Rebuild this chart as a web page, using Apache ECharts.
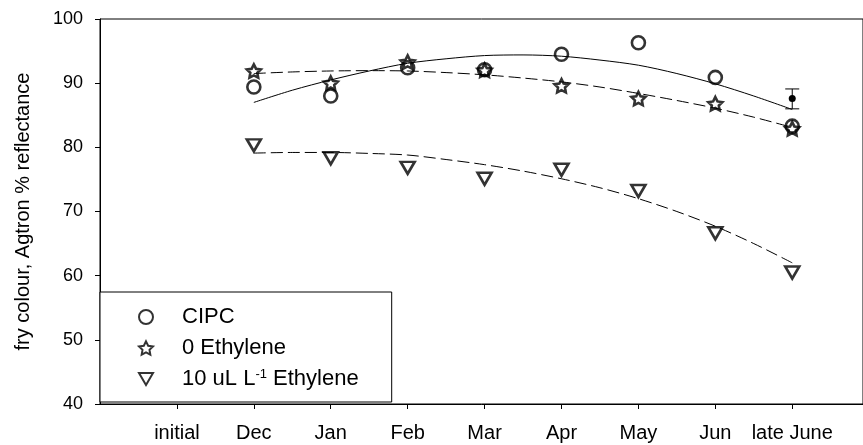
<!DOCTYPE html>
<html>
<head>
<meta charset="utf-8">
<script src="https://cdn.jsdelivr.net/npm/echarts@6/dist/echarts.min.js"></script>
<style>
  html, body { margin: 0; padding: 0; background: #ffffff; }
  #chart { width: 863px; height: 445px; }
</style>
</head>
<body>
<div id="chart"></div>
<script>
// Sampling months (x axis categories)
const categories = ['initial', 'Dec', 'Jan', 'Feb', 'Mar', 'Apr', 'May', 'Jun', 'late June'];

// Measured fry colour (Agtron % reflectance) per treatment
const cipcValues  = [null, 89.4, 88.0, 92.4, 92.1, 94.5, 96.3, 90.9, 83.3];
const eth0Values  = [null, 91.9, 90.0, 93.3, 92.0, 89.6, 87.6, 86.8, 82.9];
const eth10Values = [null, 80.3, 78.3, 76.8, 75.1, 76.5, 73.2, 66.6, 60.5];

// Fitted regression curves, sampled every half month from Dec to late June
const fitPositions = [1, 1.5, 2, 2.5, 3, 3.5, 4, 4.5, 5, 5.5, 6, 6.5, 7, 7.5, 8];
const cipcFit  = [87.0, 88.9, 90.5, 91.9, 93.1, 93.8, 94.3, 94.4, 94.2, 93.6, 92.8, 91.5, 89.9, 88.0, 85.9];
const eth0Fit  = [91.5, 91.75, 91.9, 91.95, 91.9, 91.65, 91.3, 90.8, 90.2, 89.4, 88.4, 87.3, 86.1, 84.7, 83.1];
const eth10Fit = [79.1, 79.2, 79.2, 79.05, 78.8, 78.1, 77.3, 76.3, 75.1, 73.7, 72.0, 70.0, 67.7, 65.0, 62.0];

// Single reference point with error bar
const refCategory = 'late June';
const refMean = 87.6;
const refLow = 86.0;
const refHigh = 89.1;

// Y axis ticks
const yTicks = [40, 50, 60, 70, 80, 90, 100];

const seriesNames = ['CIPC', '0 Ethylene', '10 uL L-1 Ethylene'];

function toPairs(arr) {
  const out = [];
  arr.forEach((v, i) => { if (v !== null) out.push([i, v]); });
  return out;
}
function fitPairs(arr) {
  return arr.map((v, i) => [fitPositions[i], v]);
}

const FONT = 'Liberation Sans, Arial, sans-serif';
const starPath = 'path://M0,-10 L2.94,-4.05 L9.51,-3.09 L4.76,1.55 L5.88,8.09 L0,5 L-5.88,8.09 L-4.76,1.55 L-9.51,-3.09 L-2.94,-4.05 Z';
const downTrianglePath = 'path://M-10,-8 L10,-8 L0,9 Z';

const markerStyle = { color: 'rgba(255,255,255,0)', borderColor: '#000', borderWidth: 2.6 };

const chart = echarts.init(document.getElementById('chart'), null, { renderer: 'canvas' });

const option = {
  backgroundColor: '#ffffff',
  animation: false,
  grid: {
    left: 100, top: 19, right: -1, bottom: 41,
    show: true, borderColor: '#000', borderWidth: 1, backgroundColor: 'transparent'
  },
  xAxis: {
    type: 'value',
    min: -1,
    max: 8.92,
    interval: 1,
    splitLine: { show: false },
    axisLine: { onZero: false, lineStyle: { color: '#000', width: 1 } },
    axisTick: {
      customValues: categories.map((c, i) => i),
      length: 5, inside: false, lineStyle: { color: '#000' }
    },
    axisLabel: {
      customValues: categories.map((c, i) => i),
      formatter: v => categories[Math.round(v)] || '',
      color: '#000', fontSize: 20, fontFamily: FONT, margin: 19
    }
  },
  yAxis: {
    type: 'value',
    min: yTicks[0],
    max: yTicks[yTicks.length - 1],
    interval: 10,
    splitLine: { show: false },
    axisLine: { show: true, onZero: false, lineStyle: { color: '#000', width: 1 } },
    axisTick: { show: true, length: 5, lineStyle: { color: '#000' } },
    axisLabel: { color: '#000', fontSize: 18, fontFamily: FONT, margin: 17 },
    name: 'fry colour, Agtron % reflectance',
    nameLocation: 'middle',
    nameRotate: 90,
    nameGap: 67,
    nameTextStyle: { color: '#000', fontSize: 20, fontFamily: FONT }
  },
  legend: {
    orient: 'vertical',
    left: 100,
    top: 292,
    data: seriesNames,
    backgroundColor: '#fff',
    borderColor: '#000',
    borderWidth: 1,
    borderRadius: 0,
    padding: [14, 33, 12, 38],
    itemWidth: 14,
    itemHeight: 14,
    itemGap: 9,
    selectedMode: false,
    formatter: name => name === '10 uL L-1 Ethylene' ? '10 uL L{sup|-1} Ethylene' : name,
    textStyle: {
      color: '#000', fontSize: 22, lineHeight: 22,
      fontFamily: FONT,
      padding: [0, 0, 0, 24],
      rich: {
        sup: { fontSize: 13, lineHeight: 14, verticalAlign: 'top', color: '#000', fontFamily: FONT }
      }
    }
  },
  series: [
    {
      name: 'CIPC fit', type: 'line', data: fitPairs(cipcFit), smooth: 0.3,
      symbol: 'none', lineStyle: { color: '#000', width: 1 }, z: 2, silent: true
    },
    {
      name: '0 Ethylene fit', type: 'line', data: fitPairs(eth0Fit), smooth: 0.3,
      symbol: 'none', lineStyle: { color: '#000', width: 1, type: [12, 5] }, z: 2, silent: true
    },
    {
      name: '10 uL fit', type: 'line', data: fitPairs(eth10Fit), smooth: 0.3,
      symbol: 'none', lineStyle: { color: '#000', width: 1, type: [12, 5] }, z: 2, silent: true
    },
    {
      name: seriesNames[0], type: 'scatter', data: toPairs(cipcValues),
      symbol: 'circle', symbolSize: 13, itemStyle: markerStyle, z: 3
    },
    {
      name: seriesNames[1], type: 'scatter', data: toPairs(eth0Values),
      symbol: starPath, symbolKeepAspect: true, symbolSize: 14, itemStyle: markerStyle, z: 4
    },
    {
      name: seriesNames[2], type: 'scatter', data: toPairs(eth10Values),
      symbol: downTrianglePath, symbolSize: [14, 12], itemStyle: markerStyle, z: 3
    },
    {
      name: 'reference', type: 'custom', z: 5, silent: true,
      data: [[categories.indexOf(refCategory), refMean, refLow, refHigh]],
      renderItem: (params, api) => {
        const x = api.value(0);
        const lo = api.coord([x, api.value(2)]);
        const hi = api.coord([x, api.value(3)]);
        const mid = api.coord([x, api.value(1)]);
        const half = 7;
        const s = { stroke: '#000', lineWidth: 1 };
        return {
          type: 'group',
          children: [
            { type: 'line', shape: { x1: lo[0], y1: lo[1], x2: hi[0], y2: hi[1] }, style: s },
            { type: 'line', shape: { x1: lo[0] - half, y1: lo[1], x2: lo[0] + half, y2: lo[1] }, style: s },
            { type: 'line', shape: { x1: hi[0] - half, y1: hi[1], x2: hi[0] + half, y2: hi[1] }, style: s },
            { type: 'circle', shape: { cx: mid[0], cy: mid[1], r: 3.5 }, style: { fill: '#000' } }
          ]
        };
      }
    }
  ]
};

chart.setOption(option);
</script>
</body>
</html>
